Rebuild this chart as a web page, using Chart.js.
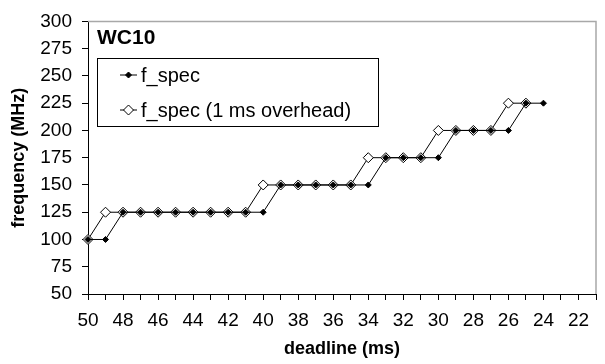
<!DOCTYPE html>
<html>
<head>
<meta charset="utf-8">
<script src="https://cdn.jsdelivr.net/npm/chart.js@4"></script>
<style>
  html, body { margin: 0; padding: 0; background: #fff; }
  #wrap { width: 605px; height: 364px; }
</style>
</head>
<body>
<div id="wrap"><canvas id="c" width="605" height="364"></canvas></div>
<script>
// ---- data ----
const deadlines = [50,49,48,47,46,45,44,43,42,41,40,39,38,37,36,35,34,33,32,31,30,29,28,27,26,25,24,23,22,21];
const fSpec = [100,100,125,125,125,125,125,125,125,125,125,150,150,150,150,150,150,175,175,175,175,200,200,200,200,225,225,null,null,null];
const fSpecOverhead = [100,125,125,125,125,125,125,125,125,125,150,150,150,150,150,150,175,175,175,175,200,200,200,200,225,225,null,null,null,null];
const seriesNames = ['f_spec', 'f_spec (1 ms overhead)'];
const chartTitle = 'WC10';
const xTitle = 'deadline (ms)';
const yTitle = 'frequency (MHz)';
const yMin = 50, yMax = 300, yStep = 25;

const FONT = "'Liberation Sans', Arial, sans-serif";

const framePlugin = {
  id: 'frame',
  afterDraw(chart) {
    const ctx = chart.ctx;
    const a = chart.chartArea;
    ctx.save();
    // gray plot-area border (top and right)
    ctx.strokeStyle = '#a8a8a8';
    ctx.lineWidth = 1.5;
    ctx.beginPath();
    ctx.moveTo(a.left, a.top);
    ctx.lineTo(a.right, a.top);
    ctx.lineTo(a.right, a.bottom);
    ctx.stroke();

    // title text
    ctx.fillStyle = '#000';
    ctx.font = "bold 21px " + FONT;
    ctx.textBaseline = 'alphabetic';
    ctx.textAlign = 'left';
    ctx.fillText(chartTitle, 97, 44);

    // legend box
    const bx = 97.5, by = 58.5, bw = 281, bh = 68;
    ctx.fillStyle = '#fff';
    ctx.fillRect(bx, by, bw, bh);
    ctx.strokeStyle = '#000';
    ctx.lineWidth = 1;
    ctx.strokeRect(bx, by, bw, bh);

    const rows = [75, 110];
    const ds = chart.data.datasets;
    rows.forEach((ry, i) => {
      const d = ds[i];
      ctx.strokeStyle = '#000';
      ctx.lineWidth = 1;
      ctx.beginPath();
      ctx.moveTo(120, ry);
      ctx.lineTo(137, ry);
      ctx.stroke();
      ctx.fillStyle = d.pointBackgroundColor;
      ctx.strokeStyle = d.pointBorderColor;
      ctx.lineWidth = d.pointBorderWidth;
      Chart.helpers.drawPoint(ctx, {
        pointStyle: 'rectRot',
        radius: d.pointRadius,
        borderWidth: d.pointBorderWidth,
        rotation: 0
      }, 128.5, ry);
      ctx.fillStyle = '#000';
      ctx.font = "20px " + FONT;
      ctx.textBaseline = 'middle';
      ctx.textAlign = 'left';
      ctx.fillText(seriesNames[i], 141, ry + 1);
    });
    ctx.restore();
  }
};

new Chart(document.getElementById('c'), {
  type: 'line',
  data: {
    labels: deadlines,
    datasets: [
      {
        label: seriesNames[0],
        data: fSpec,
        borderColor: '#000',
        borderWidth: 1,
        pointStyle: 'rectRot',
        pointRadius: 3,
        pointBackgroundColor: '#000',
        pointBorderColor: '#000',
        pointBorderWidth: 1,
        spanGaps: false,
        order: 0
      },
      {
        label: seriesNames[1],
        data: fSpecOverhead,
        borderColor: '#000',
        borderWidth: 1,
        pointStyle: 'rectRot',
        pointRadius: 5,
        pointBackgroundColor: '#fff',
        pointBorderColor: '#000',
        pointBorderWidth: 1,
        spanGaps: false,
        order: 1
      }
    ]
  },
  options: {
    responsive: false,
    animation: false,
    devicePixelRatio: 1,
    layout: { padding: { top: 14, right: 6, left: 0, bottom: 0 } },
    plugins: {
      legend: { display: false },
      tooltip: { enabled: false },
      title: { display: false }
    },
    scales: {
      x: {
        type: 'category',
        offset: false,
        grid: { display: true, drawOnChartArea: false, drawTicks: true, tickLength: 6, color: '#000' },
        border: { display: true, color: '#000', width: 1 },
        ticks: {
          autoSkip: false,
          maxRotation: 0,
          minRotation: 0,
          padding: 9,
          color: '#000',
          font: { family: FONT, size: 19 },
          callback: function(val, idx) { return idx % 2 === 0 ? String(deadlines[idx]) : ''; }
        },
        title: {
          display: true,
          text: xTitle,
          color: '#000',
          font: { family: FONT, size: 18, weight: 'bold' },
          padding: { top: 0, bottom: 4 }
        },
        afterFit(scale) { scale.height = 70; }
      },
      y: {
        min: yMin,
        max: yMax,
        grid: { display: true, drawOnChartArea: false, drawTicks: true, tickLength: 6, color: '#000' },
        border: { display: true, color: '#000', width: 1 },
        ticks: {
          stepSize: yStep,
          padding: 10,
          color: '#000',
          font: { family: FONT, size: 19 }
        },
        title: {
          display: true,
          text: yTitle,
          color: '#000',
          font: { family: FONT, size: 18, weight: 'bold' },
          padding: { top: 8, bottom: 0 }
        },
        afterFit(scale) { scale.width = 88; }
      }
    }
  },
  plugins: [framePlugin]
});
</script>
</body>
</html>
